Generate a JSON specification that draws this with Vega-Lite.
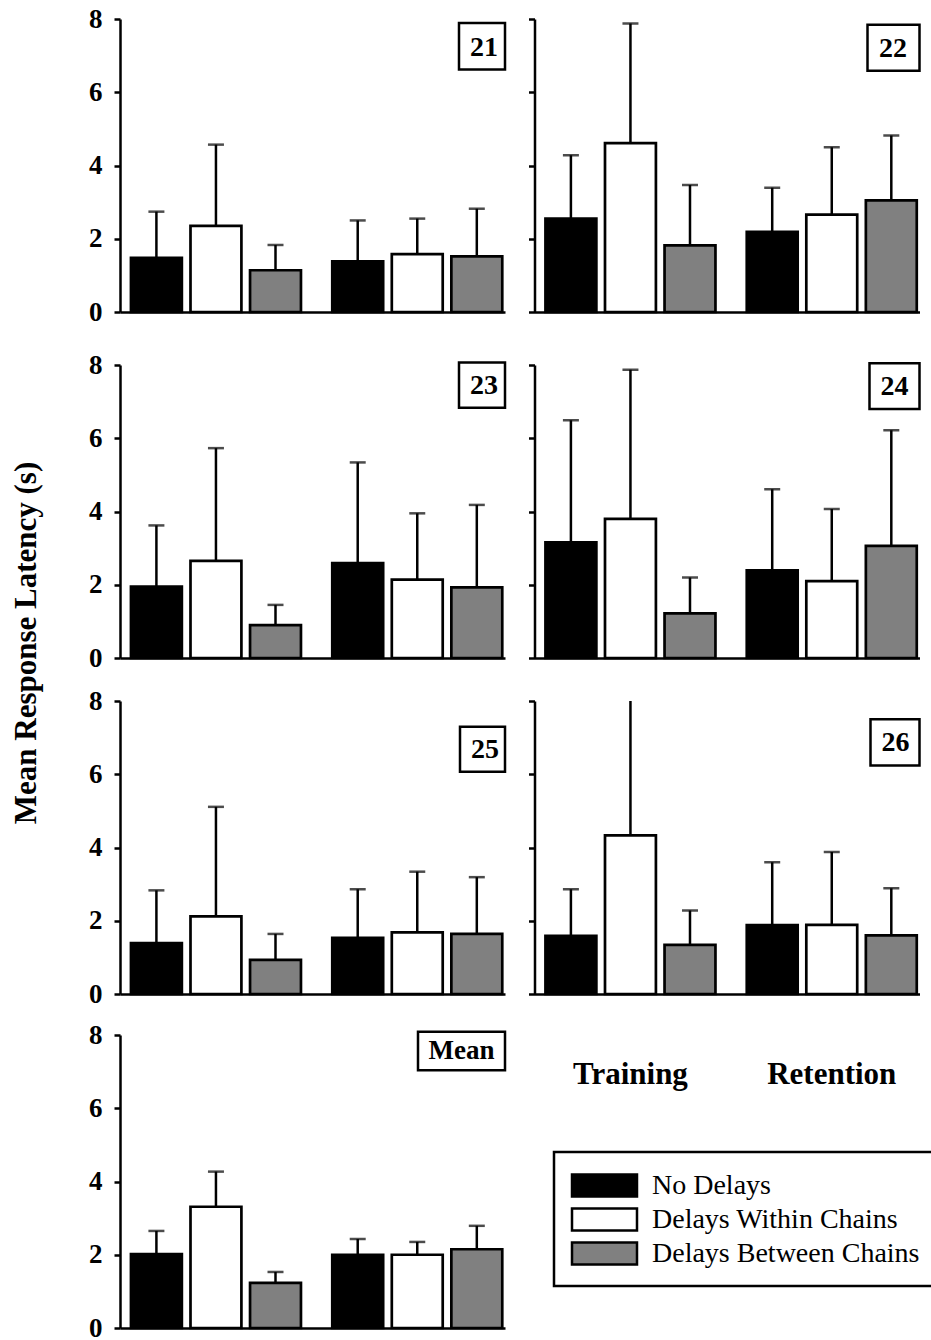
{
  "$schema": "https://vega.github.io/schema/vega-lite/v6.json",
  "background": "white",
  "padding": {"left": 10, "top": 5, "right": 0, "bottom": 0},
  "title": {"text": "Mean Response Latency (s)", "orient": "left", "anchor": "middle", "font": "Liberation Serif", "fontSize": 31, "fontWeight": "bold", "color": "black", "offset": 46, "dx": 30},
  "datasets": {
    "bars": [
      {"panel": "21", "phase": "Training", "condition": "No Delays", "mean": 1.48, "hi": 2.74},
      {"panel": "21", "phase": "Training", "condition": "Delays Within Chains", "mean": 2.35, "hi": 4.57},
      {"panel": "21", "phase": "Training", "condition": "Delays Between Chains", "mean": 1.14, "hi": 1.83},
      {"panel": "21", "phase": "Retention", "condition": "No Delays", "mean": 1.38, "hi": 2.5},
      {"panel": "21", "phase": "Retention", "condition": "Delays Within Chains", "mean": 1.58, "hi": 2.55},
      {"panel": "21", "phase": "Retention", "condition": "Delays Between Chains", "mean": 1.52, "hi": 2.82},
      {"panel": "22", "phase": "Training", "condition": "No Delays", "mean": 2.55, "hi": 4.28},
      {"panel": "22", "phase": "Training", "condition": "Delays Within Chains", "mean": 4.61, "hi": 7.88},
      {"panel": "22", "phase": "Training", "condition": "Delays Between Chains", "mean": 1.82, "hi": 3.47},
      {"panel": "22", "phase": "Retention", "condition": "No Delays", "mean": 2.19, "hi": 3.39},
      {"panel": "22", "phase": "Retention", "condition": "Delays Within Chains", "mean": 2.66, "hi": 4.5},
      {"panel": "22", "phase": "Retention", "condition": "Delays Between Chains", "mean": 3.05, "hi": 4.82},
      {"panel": "23", "phase": "Training", "condition": "No Delays", "mean": 1.95, "hi": 3.62},
      {"panel": "23", "phase": "Training", "condition": "Delays Within Chains", "mean": 2.65, "hi": 5.73},
      {"panel": "23", "phase": "Training", "condition": "Delays Between Chains", "mean": 0.9, "hi": 1.45},
      {"panel": "23", "phase": "Retention", "condition": "No Delays", "mean": 2.59, "hi": 5.34},
      {"panel": "23", "phase": "Retention", "condition": "Delays Within Chains", "mean": 2.14, "hi": 3.95},
      {"panel": "23", "phase": "Retention", "condition": "Delays Between Chains", "mean": 1.93, "hi": 4.18},
      {"panel": "24", "phase": "Training", "condition": "No Delays", "mean": 3.16, "hi": 6.49},
      {"panel": "24", "phase": "Training", "condition": "Delays Within Chains", "mean": 3.8, "hi": 7.87},
      {"panel": "24", "phase": "Training", "condition": "Delays Between Chains", "mean": 1.22, "hi": 2.2},
      {"panel": "24", "phase": "Retention", "condition": "No Delays", "mean": 2.39, "hi": 4.61},
      {"panel": "24", "phase": "Retention", "condition": "Delays Within Chains", "mean": 2.1, "hi": 4.07},
      {"panel": "24", "phase": "Retention", "condition": "Delays Between Chains", "mean": 3.06, "hi": 6.22},
      {"panel": "25", "phase": "Training", "condition": "No Delays", "mean": 1.39, "hi": 2.83},
      {"panel": "25", "phase": "Training", "condition": "Delays Within Chains", "mean": 2.12, "hi": 5.11},
      {"panel": "25", "phase": "Training", "condition": "Delays Between Chains", "mean": 0.93, "hi": 1.64},
      {"panel": "25", "phase": "Retention", "condition": "No Delays", "mean": 1.53, "hi": 2.86},
      {"panel": "25", "phase": "Retention", "condition": "Delays Within Chains", "mean": 1.68, "hi": 3.34},
      {"panel": "25", "phase": "Retention", "condition": "Delays Between Chains", "mean": 1.64, "hi": 3.19},
      {"panel": "26", "phase": "Training", "condition": "No Delays", "mean": 1.59, "hi": 2.86},
      {"panel": "26", "phase": "Training", "condition": "Delays Within Chains", "mean": 4.33, "hi": 8.4},
      {"panel": "26", "phase": "Training", "condition": "Delays Between Chains", "mean": 1.34, "hi": 2.28},
      {"panel": "26", "phase": "Retention", "condition": "No Delays", "mean": 1.88, "hi": 3.6},
      {"panel": "26", "phase": "Retention", "condition": "Delays Within Chains", "mean": 1.89, "hi": 3.88},
      {"panel": "26", "phase": "Retention", "condition": "Delays Between Chains", "mean": 1.6, "hi": 2.89},
      {"panel": "Mean", "phase": "Training", "condition": "No Delays", "mean": 2.02, "hi": 2.65},
      {"panel": "Mean", "phase": "Training", "condition": "Delays Within Chains", "mean": 3.31, "hi": 4.27},
      {"panel": "Mean", "phase": "Training", "condition": "Delays Between Chains", "mean": 1.23, "hi": 1.53},
      {"panel": "Mean", "phase": "Retention", "condition": "No Delays", "mean": 2.0, "hi": 2.43},
      {"panel": "Mean", "phase": "Retention", "condition": "Delays Within Chains", "mean": 2.0, "hi": 2.35},
      {"panel": "Mean", "phase": "Retention", "condition": "Delays Between Chains", "mean": 2.15, "hi": 2.79}
    ],
    "phases": [{"phase": "Training"}, {"phase": "Retention"}]
  },
  "spacing": 26,
  "resolve": {"scale": {"x": "independent", "y": "independent", "xOffset": "independent"}},
  "vconcat": [
    {
      "hconcat": [
        {
          "width": 385, "height": 293,
          "layer": [
            {
              "data": {"name": "bars"},
              "transform": [{"filter": "datum.panel === '21'"}],
              "encoding": {
                "x": {"field": "phase", "type": "nominal", "sort": ["Training", "Retention"], "scale": {"paddingInner": 0.1555, "paddingOuter": 0.034, "align": 0.8}, "axis": {"labels": false, "ticks": false, "title": null}},
                "xOffset": {"field": "condition", "type": "nominal", "sort": ["No Delays", "Delays Within Chains", "Delays Between Chains"], "scale": {"paddingInner": 0.145, "paddingOuter": 0}},
                "y": {"field": "mean", "type": "quantitative", "scale": {"domain": [0, 8], "nice": false}, "axis": {"values": [0, 2, 4, 6, 8], "title": null}}
              },
              "layer": [
                {"mark": {"type": "rule", "color": "black", "strokeWidth": 2.5, "clip": true}, "encoding": {"y2": {"field": "hi"}}},
                {"mark": {"type": "bar", "stroke": "black", "strokeWidth": 2.7}, "encoding": {"fill": {"field": "condition", "type": "nominal", "sort": ["No Delays", "Delays Within Chains", "Delays Between Chains"], "scale": {"domain": ["No Delays", "Delays Within Chains", "Delays Between Chains"], "range": ["#000000", "#ffffff", "#808080"]}, "legend": {"orient": "none", "legendX": 434, "legendY": 1133, "title": null, "symbolType": "M-2,-0.67H2V0.67H-2Z", "symbolSize": 1056, "symbolStrokeWidth": 2.5, "symbolOffset": 17, "labelOffset": 30, "labelFont": "Liberation Serif", "labelFontSize": 28, "labelFontWeight": "normal", "labelColor": "black", "labelLimit": 500, "padding": 16, "rowPadding": 0, "strokeColor": "black", "fillColor": "white", "symbolOpacity": 1, "encode": {"symbols": {"update": {"stroke": {"signal": "datum.value === 'Delays Between Chains' ? '#808080' : 'black'"}}}}}}}},
                {"mark": {"type": "tick", "color": "black", "orient": "horizontal", "size": 16, "thickness": 2.5, "clip": true}, "encoding": {"y": {"field": "hi", "type": "quantitative"}}}
              ]
            },
            {
              "data": {"values": [{}]},
              "layer": [
                {"mark": {"type": "rect", "fill": "white", "stroke": "black", "strokeWidth": 2.5, "x": "width", "xOffset": -46, "x2": "width", "x2Offset": 4}, "encoding": {"y": {"datum": 7.89, "type": "quantitative", "title": null}, "y2": {"datum": 6.62}}},
                {"mark": {"type": "text", "text": "21", "font": "Liberation Serif", "fontSize": 28, "fontWeight": "bold", "color": "black", "align": "center", "baseline": "middle", "x": "width", "xOffset": -21}, "encoding": {"y": {"datum": 7.22, "type": "quantitative", "title": null}}}
              ]
            }
          ]
        },
        {
          "width": 385, "height": 293,
          "layer": [
            {
              "data": {"name": "bars"},
              "transform": [{"filter": "datum.panel === '22'"}],
              "encoding": {
                "x": {"field": "phase", "type": "nominal", "sort": ["Training", "Retention"], "scale": {"paddingInner": 0.1555, "paddingOuter": 0.034, "align": 0.8}, "axis": {"labels": false, "ticks": false, "title": null}},
                "xOffset": {"field": "condition", "type": "nominal", "sort": ["No Delays", "Delays Within Chains", "Delays Between Chains"], "scale": {"paddingInner": 0.145, "paddingOuter": 0}},
                "y": {"field": "mean", "type": "quantitative", "scale": {"domain": [0, 8], "nice": false}, "axis": {"values": [0, 2, 4, 6, 8], "labels": false, "title": null}}
              },
              "layer": [
                {"mark": {"type": "rule", "color": "black", "strokeWidth": 2.5, "clip": true}, "encoding": {"y2": {"field": "hi"}}},
                {"mark": {"type": "bar", "stroke": "black", "strokeWidth": 2.7}, "encoding": {"fill": {"field": "condition", "type": "nominal", "sort": ["No Delays", "Delays Within Chains", "Delays Between Chains"]}}},
                {"mark": {"type": "tick", "color": "black", "orient": "horizontal", "size": 16, "thickness": 2.5, "clip": true}, "encoding": {"y": {"field": "hi", "type": "quantitative"}}}
              ]
            },
            {
              "data": {"values": [{}]},
              "layer": [
                {"mark": {"type": "rect", "fill": "white", "stroke": "black", "strokeWidth": 2.5, "x": "width", "xOffset": -52, "x2": "width", "x2Offset": -1}, "encoding": {"y": {"datum": 7.84, "type": "quantitative", "title": null}, "y2": {"datum": 6.59}}},
                {"mark": {"type": "text", "text": "22", "font": "Liberation Serif", "fontSize": 28, "fontWeight": "bold", "color": "black", "align": "center", "baseline": "middle", "x": "width", "xOffset": -26.5}, "encoding": {"y": {"datum": 7.18, "type": "quantitative", "title": null}}}
              ]
            }
          ]
        }
      ],
      "spacing": 29.5,
      "bounds": "flush",
      "resolve": {"scale": {"x": "independent", "y": "independent", "xOffset": "independent"}}
    },
    {
      "spacing": 16,
      "resolve": {"scale": {"x": "independent", "y": "independent", "xOffset": "independent"}},
      "vconcat": [
        {
          "hconcat": [
            {
              "width": 385, "height": 293,
              "layer": [
                {
                  "data": {"name": "bars"},
                  "transform": [{"filter": "datum.panel === '23'"}],
                  "encoding": {
                    "x": {"field": "phase", "type": "nominal", "sort": ["Training", "Retention"], "scale": {"paddingInner": 0.1555, "paddingOuter": 0.034, "align": 0.8}, "axis": {"labels": false, "ticks": false, "title": null}},
                    "xOffset": {"field": "condition", "type": "nominal", "sort": ["No Delays", "Delays Within Chains", "Delays Between Chains"], "scale": {"paddingInner": 0.145, "paddingOuter": 0}},
                    "y": {"field": "mean", "type": "quantitative", "scale": {"domain": [0, 8], "nice": false}, "axis": {"values": [0, 2, 4, 6, 8], "title": null}}
                  },
                  "layer": [
                    {"mark": {"type": "rule", "color": "black", "strokeWidth": 2.5, "clip": true}, "encoding": {"y2": {"field": "hi"}}},
                    {"mark": {"type": "bar", "stroke": "black", "strokeWidth": 2.7}, "encoding": {"fill": {"field": "condition", "type": "nominal", "sort": ["No Delays", "Delays Within Chains", "Delays Between Chains"]}}},
                    {"mark": {"type": "tick", "color": "black", "orient": "horizontal", "size": 16, "thickness": 2.5, "clip": true}, "encoding": {"y": {"field": "hi", "type": "quantitative"}}}
                  ]
                },
                {
                  "data": {"values": [{}]},
                  "layer": [
                    {"mark": {"type": "rect", "fill": "white", "stroke": "black", "strokeWidth": 2.5, "x": "width", "xOffset": -46, "x2": "width", "x2Offset": 4}, "encoding": {"y": {"datum": 8.07, "type": "quantitative", "title": null}, "y2": {"datum": 6.83}}},
                    {"mark": {"type": "text", "text": "23", "font": "Liberation Serif", "fontSize": 28, "fontWeight": "bold", "color": "black", "align": "center", "baseline": "middle", "x": "width", "xOffset": -21}, "encoding": {"y": {"datum": 7.42, "type": "quantitative", "title": null}}}
                  ]
                }
              ]
            },
            {
              "width": 385, "height": 293,
              "layer": [
                {
                  "data": {"name": "bars"},
                  "transform": [{"filter": "datum.panel === '24'"}],
                  "encoding": {
                    "x": {"field": "phase", "type": "nominal", "sort": ["Training", "Retention"], "scale": {"paddingInner": 0.1555, "paddingOuter": 0.034, "align": 0.8}, "axis": {"labels": false, "ticks": false, "title": null}},
                    "xOffset": {"field": "condition", "type": "nominal", "sort": ["No Delays", "Delays Within Chains", "Delays Between Chains"], "scale": {"paddingInner": 0.145, "paddingOuter": 0}},
                    "y": {"field": "mean", "type": "quantitative", "scale": {"domain": [0, 8], "nice": false}, "axis": {"values": [0, 2, 4, 6, 8], "labels": false, "title": null}}
                  },
                  "layer": [
                    {"mark": {"type": "rule", "color": "black", "strokeWidth": 2.5, "clip": true}, "encoding": {"y2": {"field": "hi"}}},
                    {"mark": {"type": "bar", "stroke": "black", "strokeWidth": 2.7}, "encoding": {"fill": {"field": "condition", "type": "nominal", "sort": ["No Delays", "Delays Within Chains", "Delays Between Chains"]}}},
                    {"mark": {"type": "tick", "color": "black", "orient": "horizontal", "size": 16, "thickness": 2.5, "clip": true}, "encoding": {"y": {"field": "hi", "type": "quantitative"}}}
                  ]
                },
                {
                  "data": {"values": [{}]},
                  "layer": [
                    {"mark": {"type": "rect", "fill": "white", "stroke": "black", "strokeWidth": 2.5, "x": "width", "xOffset": -50, "x2": "width", "x2Offset": 0}, "encoding": {"y": {"datum": 8.05, "type": "quantitative", "title": null}, "y2": {"datum": 6.8}}},
                    {"mark": {"type": "text", "text": "24", "font": "Liberation Serif", "fontSize": 28, "fontWeight": "bold", "color": "black", "align": "center", "baseline": "middle", "x": "width", "xOffset": -25}, "encoding": {"y": {"datum": 7.39, "type": "quantitative", "title": null}}}
                  ]
                }
              ]
            }
          ],
          "spacing": 29.5,
          "bounds": "flush",
          "resolve": {"scale": {"x": "independent", "y": "independent", "xOffset": "independent"}}
        },
        {
          "spacing": 14,
          "resolve": {"scale": {"x": "independent", "y": "independent", "xOffset": "independent"}},
          "vconcat": [
            {
              "hconcat": [
                {
                  "width": 385, "height": 293,
                  "layer": [
                    {
                      "data": {"name": "bars"},
                      "transform": [{"filter": "datum.panel === '25'"}],
                      "encoding": {
                        "x": {"field": "phase", "type": "nominal", "sort": ["Training", "Retention"], "scale": {"paddingInner": 0.1555, "paddingOuter": 0.034, "align": 0.8}, "axis": {"labels": false, "ticks": false, "title": null}},
                        "xOffset": {"field": "condition", "type": "nominal", "sort": ["No Delays", "Delays Within Chains", "Delays Between Chains"], "scale": {"paddingInner": 0.145, "paddingOuter": 0}},
                        "y": {"field": "mean", "type": "quantitative", "scale": {"domain": [0, 8], "nice": false}, "axis": {"values": [0, 2, 4, 6, 8], "title": null}}
                      },
                      "layer": [
                        {"mark": {"type": "rule", "color": "black", "strokeWidth": 2.5, "clip": true}, "encoding": {"y2": {"field": "hi"}}},
                        {"mark": {"type": "bar", "stroke": "black", "strokeWidth": 2.7}, "encoding": {"fill": {"field": "condition", "type": "nominal", "sort": ["No Delays", "Delays Within Chains", "Delays Between Chains"]}}},
                        {"mark": {"type": "tick", "color": "black", "orient": "horizontal", "size": 16, "thickness": 2.5, "clip": true}, "encoding": {"y": {"field": "hi", "type": "quantitative"}}}
                      ]
                    },
                    {
                      "data": {"values": [{}]},
                      "layer": [
                        {"mark": {"type": "rect", "fill": "white", "stroke": "black", "strokeWidth": 2.5, "x": "width", "xOffset": -45, "x2": "width", "x2Offset": 5}, "encoding": {"y": {"datum": 7.3, "type": "quantitative", "title": null}, "y2": {"datum": 6.07}}},
                        {"mark": {"type": "text", "text": "25", "font": "Liberation Serif", "fontSize": 28, "fontWeight": "bold", "color": "black", "align": "center", "baseline": "middle", "x": "width", "xOffset": -20}, "encoding": {"y": {"datum": 6.66, "type": "quantitative", "title": null}}}
                      ]
                    }
                  ]
                },
                {
                  "width": 385, "height": 293,
                  "layer": [
                    {
                      "data": {"name": "bars"},
                      "transform": [{"filter": "datum.panel === '26'"}],
                      "encoding": {
                        "x": {"field": "phase", "type": "nominal", "sort": ["Training", "Retention"], "scale": {"paddingInner": 0.1555, "paddingOuter": 0.034, "align": 0.8}, "axis": {"labels": false, "ticks": false, "title": null}},
                        "xOffset": {"field": "condition", "type": "nominal", "sort": ["No Delays", "Delays Within Chains", "Delays Between Chains"], "scale": {"paddingInner": 0.145, "paddingOuter": 0}},
                        "y": {"field": "mean", "type": "quantitative", "scale": {"domain": [0, 8], "nice": false}, "axis": {"values": [0, 2, 4, 6, 8], "labels": false, "title": null}}
                      },
                      "layer": [
                        {"mark": {"type": "rule", "color": "black", "strokeWidth": 2.5, "clip": true}, "encoding": {"y2": {"field": "hi"}}},
                        {"mark": {"type": "bar", "stroke": "black", "strokeWidth": 2.7}, "encoding": {"fill": {"field": "condition", "type": "nominal", "sort": ["No Delays", "Delays Within Chains", "Delays Between Chains"]}}},
                        {"mark": {"type": "tick", "color": "black", "orient": "horizontal", "size": 16, "thickness": 2.5, "clip": true}, "encoding": {"y": {"field": "hi", "type": "quantitative"}}}
                      ]
                    },
                    {
                      "data": {"values": [{}]},
                      "layer": [
                        {"mark": {"type": "rect", "fill": "white", "stroke": "black", "strokeWidth": 2.5, "x": "width", "xOffset": -49, "x2": "width", "x2Offset": 1}, "encoding": {"y": {"datum": 7.5, "type": "quantitative", "title": null}, "y2": {"datum": 6.24}}},
                        {"mark": {"type": "text", "text": "26", "font": "Liberation Serif", "fontSize": 28, "fontWeight": "bold", "color": "black", "align": "center", "baseline": "middle", "x": "width", "xOffset": -24}, "encoding": {"y": {"datum": 6.85, "type": "quantitative", "title": null}}}
                      ]
                    }
                  ]
                }
              ],
              "spacing": 29.5,
              "bounds": "flush",
              "resolve": {"scale": {"x": "independent", "y": "independent", "xOffset": "independent"}}
            },
            {
              "hconcat": [
                {
                  "width": 385, "height": 293,
                  "layer": [
                    {
                      "data": {"name": "bars"},
                      "transform": [{"filter": "datum.panel === 'Mean'"}],
                      "encoding": {
                        "x": {"field": "phase", "type": "nominal", "sort": ["Training", "Retention"], "scale": {"paddingInner": 0.1555, "paddingOuter": 0.034, "align": 0.8}, "axis": {"labels": false, "ticks": false, "title": null}},
                        "xOffset": {"field": "condition", "type": "nominal", "sort": ["No Delays", "Delays Within Chains", "Delays Between Chains"], "scale": {"paddingInner": 0.145, "paddingOuter": 0}},
                        "y": {"field": "mean", "type": "quantitative", "scale": {"domain": [0, 8], "nice": false}, "axis": {"values": [0, 2, 4, 6, 8], "title": null}}
                      },
                      "layer": [
                        {"mark": {"type": "rule", "color": "black", "strokeWidth": 2.5, "clip": true}, "encoding": {"y2": {"field": "hi"}}},
                        {"mark": {"type": "bar", "stroke": "black", "strokeWidth": 2.7}, "encoding": {"fill": {"field": "condition", "type": "nominal", "sort": ["No Delays", "Delays Within Chains", "Delays Between Chains"]}}},
                        {"mark": {"type": "tick", "color": "black", "orient": "horizontal", "size": 16, "thickness": 2.5, "clip": true}, "encoding": {"y": {"field": "hi", "type": "quantitative"}}}
                      ]
                    },
                    {
                      "data": {"values": [{}]},
                      "layer": [
                        {"mark": {"type": "rect", "fill": "white", "stroke": "black", "strokeWidth": 2.5, "x": "width", "xOffset": -87, "x2": "width", "x2Offset": 0}, "encoding": {"y": {"datum": 8.09, "type": "quantitative", "title": null}, "y2": {"datum": 7.04}}},
                        {"mark": {"type": "text", "text": "Mean", "font": "Liberation Serif", "fontSize": 27, "fontWeight": "bold", "color": "black", "align": "center", "baseline": "middle", "x": "width", "xOffset": -43.5}, "encoding": {"y": {"datum": 7.56, "type": "quantitative", "title": null}}}
                      ]
                    }
                  ]
                },
                {
                  "width": 385, "height": 293,
                  "data": {"name": "phases"},
                  "mark": {"type": "text", "font": "Liberation Serif", "fontSize": 31, "fontWeight": "bold", "color": "black", "align": "center", "baseline": "alphabetic"},
                  "encoding": {
                    "x": {"field": "phase", "type": "nominal", "sort": ["Training", "Retention"], "scale": {"type": "band", "paddingInner": 0.1555, "paddingOuter": 0.034, "align": 0.8}, "axis": null},
                    "y": {"datum": 6.65, "type": "quantitative", "scale": {"domain": [0, 8], "nice": false}, "axis": null},
                    "text": {"field": "phase"}
                  }
                }
              ],
              "spacing": 29.5,
              "bounds": "flush",
              "resolve": {"scale": {"x": "independent", "y": "independent", "xOffset": "independent"}}
            }
          ]
        }
      ]
    }
  ],
  "config": {
    "view": {"stroke": null},
    "font": "Liberation Serif",
    "legend": {"strokeWidth": 2.5},
    "axis": {
      "domainColor": "black", "domainWidth": 2.5,
      "tickColor": "black", "tickWidth": 2.5, "tickSize": 6,
      "grid": false,
      "labelFont": "Liberation Serif", "labelFontSize": 27, "labelFontWeight": "bold", "labelColor": "black", "labelPadding": 12
    }
  }
}
